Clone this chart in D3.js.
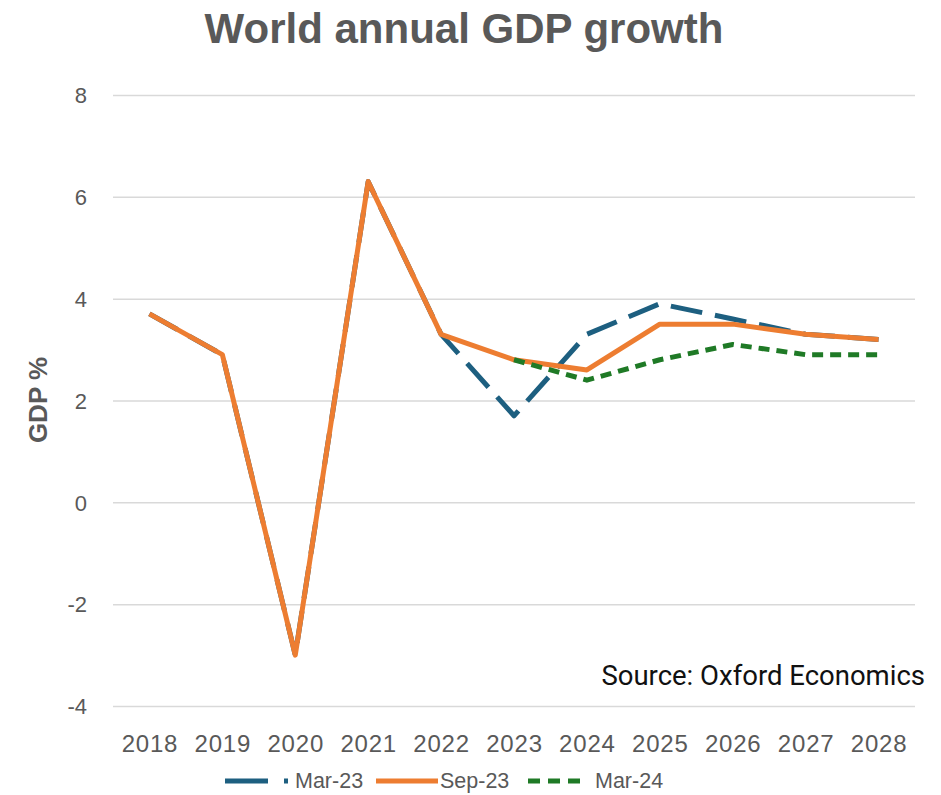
<!DOCTYPE html>
<html>
<head>
<meta charset="utf-8">
<script src="https://cdn.jsdelivr.net/npm/d3@7"></script>
<style>
  html, body { margin: 0; padding: 0; background: #ffffff; }
  svg { display: block; }
</style>
</head>
<body>
<svg id="chart" width="941" height="795"></svg>
<script>
// World annual GDP growth, three forecast vintages
const years = ["2018","2019","2020","2021","2022","2023","2024","2025","2026","2027","2028"];
const mar23 = [3.7, 2.9, -3.0, 6.3, 3.3, 1.7, 3.3, 3.9, 3.6, 3.3, 3.2];
const sep23 = [3.7, 2.9, -3.0, 6.3, 3.3, 2.8, 2.6, 3.5, 3.5, 3.3, 3.2];
const mar24 = [null, null, null, null, null, 2.8, 2.4, 2.8, 3.1, 2.9, 2.9];
const yTicks = [-4, -2, 0, 2, 4, 6, 8];

const series = [
  { name: "Mar-23", values: mar23, color: "#1D5F80", dash: "32,13" },
  { name: "Sep-23", values: sep23, color: "#ED7D31", dash: null },
  { name: "Mar-24", values: mar24, color: "#1F7A26", dash: "11,7" }
];

const svg = d3.select("#chart");
const grey = "#595959";

const x = d3.scalePoint().domain(years).range([113, 915]).padding(0.5);
const y = d3.scaleLinear().domain([-4, 8]).range([706, 95]);

// Title
svg.append("text")
  .attr("x", 464).attr("y", 43)
  .attr("text-anchor", "middle")
  .attr("font-family", "Liberation Sans, Arial, sans-serif")
  .attr("font-weight", "bold")
  .attr("font-size", 42)
  .attr("fill", grey)
  .text("World annual GDP growth");

// Horizontal gridlines with value labels
const yAxis = d3.axisLeft(y)
  .tickValues(yTicks)
  .tickFormat(d => String(d))
  .tickSize(-(915 - 113))
  .tickPadding(26);
const gy = svg.append("g").attr("transform", "translate(113,0)").call(yAxis);
gy.select(".domain").remove();
gy.selectAll(".tick line").attr("stroke", "#d9d9d9").attr("stroke-width", 1.5);
gy.selectAll(".tick text")
  .attr("font-family", "Liberation Sans, Arial, sans-serif")
  .attr("font-size", 22)
  .attr("fill", grey)
  .attr("dy", "0.35em");

// Year labels
const xAxis = d3.axisBottom(x).tickSize(0).tickPadding(29);
const gx = svg.append("g").attr("transform", "translate(0,706)").call(xAxis);
gx.select(".domain").remove();
gx.selectAll(".tick text")
  .attr("font-family", "Liberation Sans, Arial, sans-serif")
  .attr("font-size", 24)
  .attr("letter-spacing", "0.8px")
  .attr("fill", grey);

// Y axis title
svg.append("text")
  .attr("transform", "translate(47,400) rotate(-90)")
  .attr("text-anchor", "middle")
  .attr("font-family", "Liberation Sans, Arial, sans-serif")
  .attr("font-weight", "bold")
  .attr("font-size", 26)
  .attr("fill", grey)
  .text("GDP %");

// Lines
const line = d3.line()
  .defined(d => d != null)
  .x((d, i) => x(years[i]))
  .y(d => y(d));

svg.append("g").selectAll("path")
  .data(series)
  .join("path")
  .attr("d", s => line(s.values))
  .attr("fill", "none")
  .attr("stroke", s => s.color)
  .attr("stroke-width", 5)
  .attr("stroke-linejoin", "round")
  .attr("stroke-dasharray", s => s.dash);

// Source note
svg.append("text")
  .attr("x", 925).attr("y", 685)
  .attr("text-anchor", "end")
  .attr("font-family", "Roboto, Liberation Sans, Arial, sans-serif")
  .attr("font-size", 27.5)
  .attr("fill", "#111111")
  .text("Source: Oxford Economics");

// Legend
const legend = [
  { s: series[0], x1: 225, x2: 291, dash: "43,16,4,100", tx: 295 },
  { s: series[1], x1: 376, x2: 438, dash: null, tx: 440 },
  { s: series[2], x1: 528, x2: 581, dash: "12,8", tx: 595 }
];
const lg = svg.append("g");
legend.forEach(l => {
  lg.append("line")
    .attr("x1", l.x1).attr("x2", l.x2)
    .attr("y1", 781).attr("y2", 781)
    .attr("stroke", l.s.color)
    .attr("stroke-width", 5)
    .attr("stroke-dasharray", l.dash);
  lg.append("text")
    .attr("x", l.tx).attr("y", 788)
    .attr("font-family", "Liberation Sans, Arial, sans-serif")
    .attr("font-size", 21.5)
    .attr("fill", grey)
    .text(l.s.name);
});
</script>
</body>
</html>
